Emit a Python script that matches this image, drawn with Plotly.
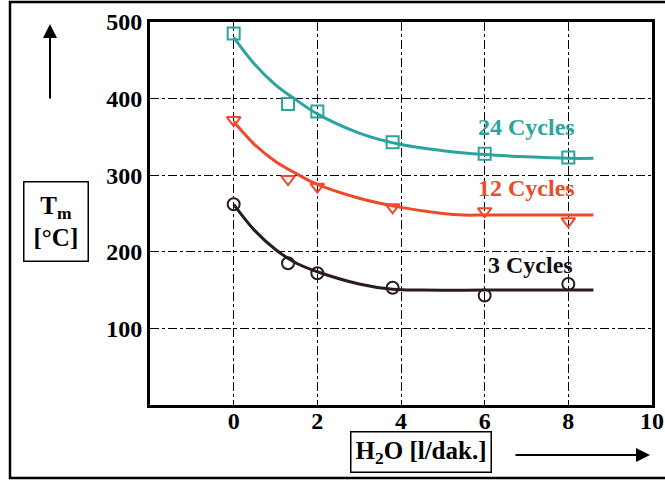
import plotly.graph_objects as go

# measured points
x_pts = [0, 1.3, 2, 3.8, 6, 8]
y24 = [485, 393, 383, 343, 328, 323]
y12 = [372, 295, 285, 258, 253, 240]
y3 = [262, 185, 172, 153, 143, 158]

# fitted curves
cx24 = [0, 0.5, 1, 1.5, 2, 3, 4, 5, 6, 7, 8, 8.6]
cy24 = [480, 445, 418, 398, 380, 355, 340, 332, 327, 324, 322, 322]
cx12 = [0, 0.5, 1, 1.5, 2, 3, 4, 5, 5.5, 6, 7, 8, 8.6]
cy12 = [370, 340, 318, 302, 288, 270, 258, 250, 248, 248, 248, 248, 248]
cx3 = [0, 0.5, 1, 1.5, 2, 3, 3.8, 4.5, 6, 7, 8, 8.6]
cy3 = [262, 228, 203, 185, 174, 158, 151, 150, 150, 150, 150, 150]

labels = ["24 Cycles", "12 Cycles", "3 Cycles"]
label_x = [7.0, 7.0, 7.1]
label_y = [363, 283, 183]

teal = "#2ba49e"
red = "#f0482a"
blk = "#2a1c1c"

fig = go.Figure()
for cx, cy, col in [(cx24, cy24, teal), (cx12, cy12, red), (cx3, cy3, blk)]:
    fig.add_trace(go.Scatter(x=cx, y=cy, mode="lines", line=dict(color=col, width=3, shape="spline"),
                             showlegend=False, hoverinfo="skip"))
for yy, col, sym in [(y24, teal, "square-open"), (y12, red, "triangle-down-open"), (y3, blk, "circle-open")]:
    fig.add_trace(go.Scatter(x=x_pts, y=yy, mode="markers",
                             marker=dict(symbol=sym, size=12, color=col, line=dict(width=2, color=col)),
                             showlegend=False))

font = "Liberation Serif, Times New Roman, serif"
for t, lx, ly, col in zip(labels, label_x, label_y, [teal, red, "#111111"]):
    fig.add_annotation(x=lx, y=ly, text="<b>%s</b>" % t, showarrow=False,
                       font=dict(family=font, size=24, color=col))

# axis title boxes
fig.add_annotation(xref="paper", yref="paper", x=(56 - 150) / 502, y=(405 - 222) / 383,
                   xanchor="center", yanchor="middle",
                   text="<b>T<sub>m</sub><br>[°C]</b>", showarrow=False,
                   font=dict(family=font, size=25, color="black"),
                   bordercolor="black", borderwidth=1.5, borderpad=9, bgcolor="white")
fig.add_annotation(xref="paper", yref="paper", x=(421 - 150) / 502, y=(405 - 452) / 383,
                   xanchor="center", yanchor="middle",
                   text="<b>H<sub>2</sub>O [l/dak.]</b>", showarrow=False,
                   font=dict(family=font, size=25, color="black"),
                   bordercolor="black", borderwidth=1.5, borderpad=4, bgcolor="white")
# arrows
fig.add_annotation(xref="paper", yref="paper", x=(50 - 150) / 502, y=(405 - 24) / 383,
                   ax=0, ay=76, text="", showarrow=True, arrowhead=2, arrowsize=1.4,
                   arrowwidth=2, arrowcolor="black")
fig.add_annotation(xref="paper", yref="paper", x=(650 - 150) / 502, y=(405 - 455) / 383,
                   ax=-136, ay=0, text="", showarrow=True, arrowhead=2, arrowsize=1.4,
                   arrowwidth=2, arrowcolor="black")

# outer border
fig.add_shape(type="rect", xref="paper", yref="paper",
              x0=(10 - 150) / 502, x1=(720 - 150) / 502,
              y0=(405 - 478) / 383, y1=(405 - 2) / 383,
              line=dict(color="black", width=2.5), layer="below")

tick_font = dict(family=font, size=24, color="black", weight="bold")
fig.update_xaxes(range=[-2, 10], tickvals=[0, 2, 4, 6, 8, 10], showgrid=True,
                 gridcolor="black", griddash="dashdot", gridwidth=1,
                 showline=True, mirror=True, linecolor="black", linewidth=3,
                 zeroline=False, ticks="", tickfont=tick_font, automargin=False,
                 ticklabelstandoff=-8)
fig.update_yaxes(range=[0, 500], tickvals=[100, 200, 300, 400, 500], showgrid=True,
                 gridcolor="black", griddash="dashdot", gridwidth=1,
                 showline=True, mirror=True, linecolor="black", linewidth=3,
                 zeroline=False, ticks="", tickfont=tick_font, automargin=False)
fig.update_layout(width=665, height=483, margin=dict(l=150, r=13, t=22, b=78),
                  plot_bgcolor="white", paper_bgcolor="white")
fig.write_html("out.html", config={"displayModeBar": False},
               post_script="document.body.style.margin='0';document.body.style.overflow='hidden';")
